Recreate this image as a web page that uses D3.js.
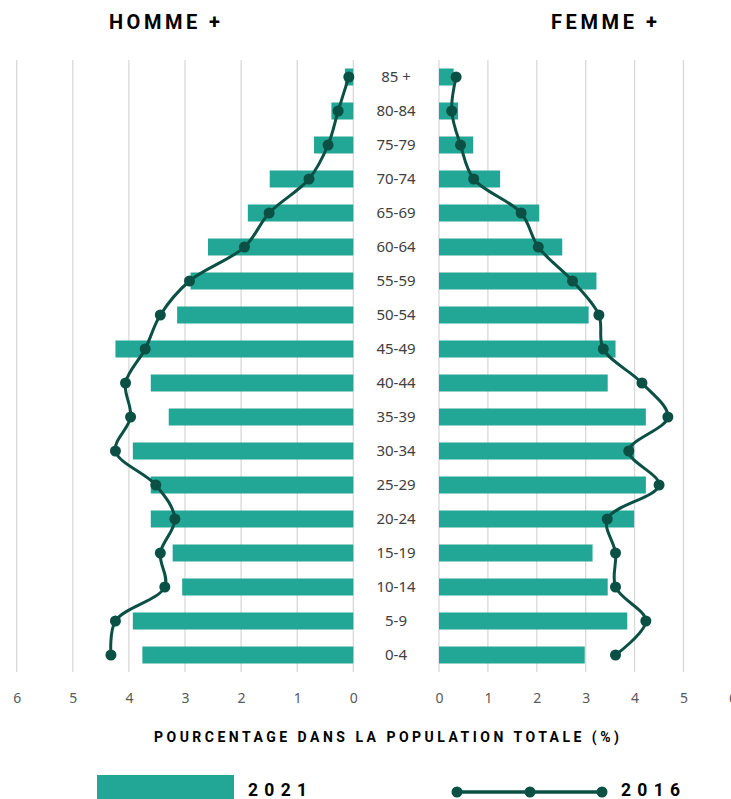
<!DOCTYPE html>
<html><head><meta charset="utf-8">
<script src="https://cdn.jsdelivr.net/npm/d3@7"></script>
<style>body{margin:0;background:#fff}svg{display:block}</style>
</head><body><svg id="c" width="731" height="799"></svg>
<script>
const ageGroups = ["85 +","80-84","75-79","70-74","65-69","60-64","55-59","50-54","45-49","40-44","35-39","30-34","25-29","20-24","15-19","10-14","5-9","0-4"];
const male2021   = [0.15,0.39,0.70,1.49,1.88,2.59,2.90,3.14,4.24,3.61,3.29,3.93,3.61,3.61,3.22,3.05,3.93,3.76];
const male2016   = [0.08,0.27,0.45,0.79,1.50,1.94,2.92,3.44,3.71,4.06,3.97,4.24,3.52,3.18,3.44,3.36,4.24,4.32];
const female2021 = [0.30,0.39,0.70,1.25,2.05,2.52,3.22,3.06,3.61,3.45,4.23,3.99,4.23,3.99,3.14,3.45,3.85,2.98];
const female2016 = [0.35,0.26,0.44,0.71,1.68,2.03,2.73,3.27,3.36,4.15,4.68,3.88,4.50,3.44,3.61,3.61,4.23,3.61];
const tickValues = [0,1,2,3,4,5,6];
const titles = ["HOMME +","FEMME +"];
const axisTitle = "POURCENTAGE DANS LA POPULATION TOTALE (%)";
const legendLabels = ["2021","2016"];

const barColor = "#22A695", lineColor = "#0B5045", gridColor = "#D9D9D9";
const svg = d3.select("#c");
const plotTop = 60, plotBottom = 672;
const y = d3.scaleBand().domain(ageGroups).range([plotTop,plotBottom]).paddingInner(0.5).paddingOuter(0.25);
const xL = d3.scaleLinear().domain([0,6]).range([353.3,16.7]);
const xR = d3.scaleLinear().domain([0,6]).range([439,732.4]);

// gridlines
[xL,xR].forEach(sc=>{
  svg.append("g").selectAll("line").data(tickValues).join("line")
    .attr("x1",d=>sc(d)).attr("x2",d=>sc(d)).attr("y1",plotTop).attr("y2",plotBottom)
    .attr("stroke",gridColor).attr("stroke-width",1.3);
});

// bars
svg.append("g").selectAll("rect").data(ageGroups).join("rect")
  .attr("x",(d,i)=>xL(male2021[i])).attr("width",(d,i)=>xL(0)-xL(male2021[i]))
  .attr("y",d=>y(d)).attr("height",y.bandwidth()).attr("fill",barColor);
svg.append("g").selectAll("rect").data(ageGroups).join("rect")
  .attr("x",xR(0)).attr("width",(d,i)=>xR(female2021[i])-xR(0))
  .attr("y",d=>y(d)).attr("height",y.bandwidth()).attr("fill",barColor);

// lines
const yc = d=>y(d)+y.bandwidth()/2;
function drawLine(vals, sc){
  const pts = ageGroups.map((d,i)=>[sc(vals[i]), yc(d)]);
  svg.append("path").datum(pts).attr("fill","none").attr("stroke",lineColor).attr("stroke-width",3)
    .attr("d",d3.line().curve(d3.curveCatmullRom.alpha(0.5)));
  svg.append("g").selectAll("circle").data(pts).join("circle")
    .attr("cx",d=>d[0]).attr("cy",d=>d[1]).attr("r",5.5).attr("fill",lineColor);
}
drawLine(male2016,xL);
drawLine(female2016,xR);

// category labels
svg.append("g").selectAll("text").data(ageGroups).join("text")
  .attr("x",396).attr("y",d=>yc(d)).attr("dy","0.35em").attr("text-anchor","middle")
  .attr("font-family","Noto Sans, sans-serif").attr("font-size",15).attr("fill","#404040").text(d=>d);

// axes
[xL,xR].forEach(sc=>{
  const g = svg.append("g").attr("transform","translate(0,690)")
    .call(d3.axisBottom(sc).tickValues(tickValues).tickSize(0).tickPadding(3).tickFormat(d3.format("d")));
  g.select(".domain").remove();
  g.selectAll("text").attr("font-family","Noto Sans, sans-serif").attr("font-size",14).attr("fill","#595959");
});

// titles
const bold = "Roboto, sans-serif";
function fitText(x,yy,txt,size,len){
  return svg.append("text").attr("x",x).attr("y",yy).attr("font-family",bold).attr("font-weight",700)
    .attr("font-size",size).attr("fill","#000").attr("textLength",len).attr("lengthAdjust","spacing")
    .text(txt);
}
fitText(109,29,titles[0],20,111);
fitText(551,29,titles[1],20,106);
fitText(154,742,axisTitle,14,465);

// legend
svg.append("rect").attr("x",97).attr("y",775).attr("width",137).attr("height",30).attr("fill",barColor);
fitText(248,796,legendLabels[0],17.5,59);
svg.append("line").attr("x1",457).attr("x2",602).attr("y1",792).attr("y2",792).attr("stroke",lineColor).attr("stroke-width",3.5);
svg.append("g").selectAll("circle").data([457,530,602]).join("circle")
  .attr("cx",d=>d).attr("cy",792).attr("r",5.5).attr("fill",lineColor);
fitText(621,796,legendLabels[1],17.5,59);
</script></body></html>
